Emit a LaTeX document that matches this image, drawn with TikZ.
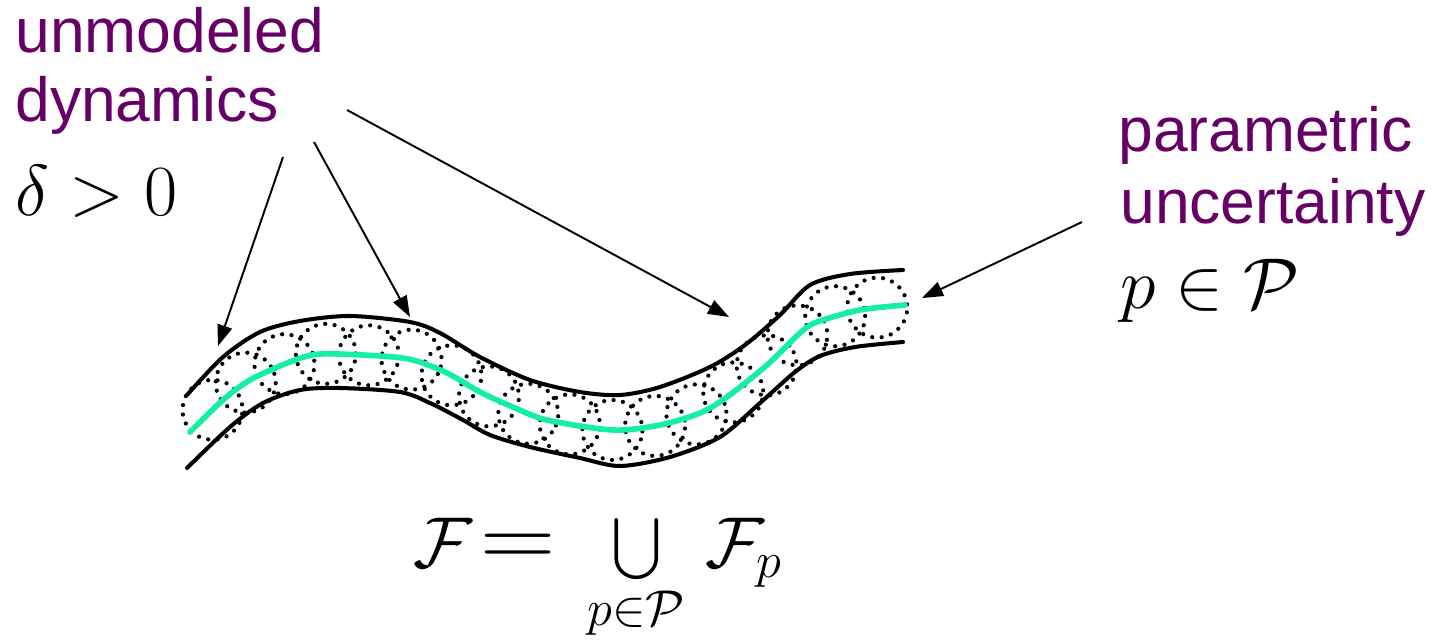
\RequirePackage{fix-cm}
\documentclass[tikz,border=0pt]{standalone}
\usepackage{amsmath}
\usepackage{graphicx}
\usepackage{fontspec}
\newfontfamily\labelfont{Liberation Sans}
\usetikzlibrary{arrows.meta,decorations.markings}
\definecolor{plum}{RGB}{102,0,102}
\definecolor{spineGreen}{RGB}{20,240,160}
\newcommand{\wideeq}{\mathrel{\scalebox{1.45}[1.3]{$=$}}}

\begin{document}
\begin{tikzpicture}[x=0.02cm, y=-0.02cm,
    lbl/.style={font=\labelfont\fontsize{35.5}{40}\selectfont, text=plum, inner sep=0pt, anchor=base west},
    sym/.style={font=\fontsize{41}{46}\selectfont, inner sep=0pt, anchor=base west},
    edge/.style={line width=2.3pt, line cap=round},
    ball/.style={black, line width=2.4pt, line cap=round, dash pattern=on 0pt off 5.4pt},
    ptr/.style={-{Triangle[length=0.42cm, width=0.3cm]}, line width=1.1pt},
]
\useasboundingbox (0,0) rectangle (1447,642);

% Labels
\node[lbl] (unmod) at (15,53) {unmodeled};
\node[lbl] (dyn) at (15,122) {dynamics};
\node[sym] (delta) at (15,215) {$\delta > 0$};
\node[lbl] (param) at (1118,152) {parametric};
\node[lbl] (uncert) at (1120,223) {uncertainty};
\node[sym] (member) at (1120,308) {$p \in \mathcal{P}$};
\node[sym] (union) at (413,567) {$\displaystyle \mathcal{F}\mkern-3mu \wideeq \,\bigcup_{p\in\mathcal{P}}\;\! \mathcal{F}_p$};

% Tube walls
\draw[edge] plot[smooth] coordinates {(187,395) (223,357) (260,332) (300,321) (350,316) (410,322) (440,333)
    (480,357) (530,380) (580,392) (620,395) (660,387) (710,367) (745,345) (780,315) (810,285) (850,274) (903,270)};
\draw[edge] plot[smooth] coordinates {(187,468) (230,427) (263,403) (300,390) (340,388) (400,392) (430,403)
    (463,420) (490,435) (530,447) (580,458) (620,466) (670,457) (720,437) (760,403) (795,372) (820,356) (855,347) (903,342)};

% Nominal trajectory with balls
\draw[spineGreen, line width=3.2pt, line cap=round,
    preaction={decorate, decoration={markings,
        mark=between positions 0.04 and 0.97 step 0.86cm with {\draw[ball] (0,0) circle[radius=0.6cm];}}}]
    plot[smooth] coordinates {(190,432) (223,400) (250,380) (290,362) (320,354) (380,356) (413,360) (447,373)
    (480,392) (513,407) (547,420) (613,430) (660,425) (700,413) (727,397) (767,365) (800,333) (817,322) (860,310) (905,305)};

% Arrow ends
\coordinate (srcL) at (283,157);
\coordinate (srcM) at (314,142);
\coordinate (srcR) at (347,110);
\coordinate (srcP) at (1082,222);
\coordinate (tipL) at (218,346);
\coordinate (tipM) at (410,317);
\coordinate (tipR) at (729,317);
\coordinate (tipP) at (922,298);

% Arrows
\draw[ptr] (srcL) -- (tipL);
\draw[ptr] (srcM) -- (tipM);
\draw[ptr] (srcR) -- (tipR);
\draw[ptr] (srcP) -- (tipP);
\end{tikzpicture}
\end{document}
